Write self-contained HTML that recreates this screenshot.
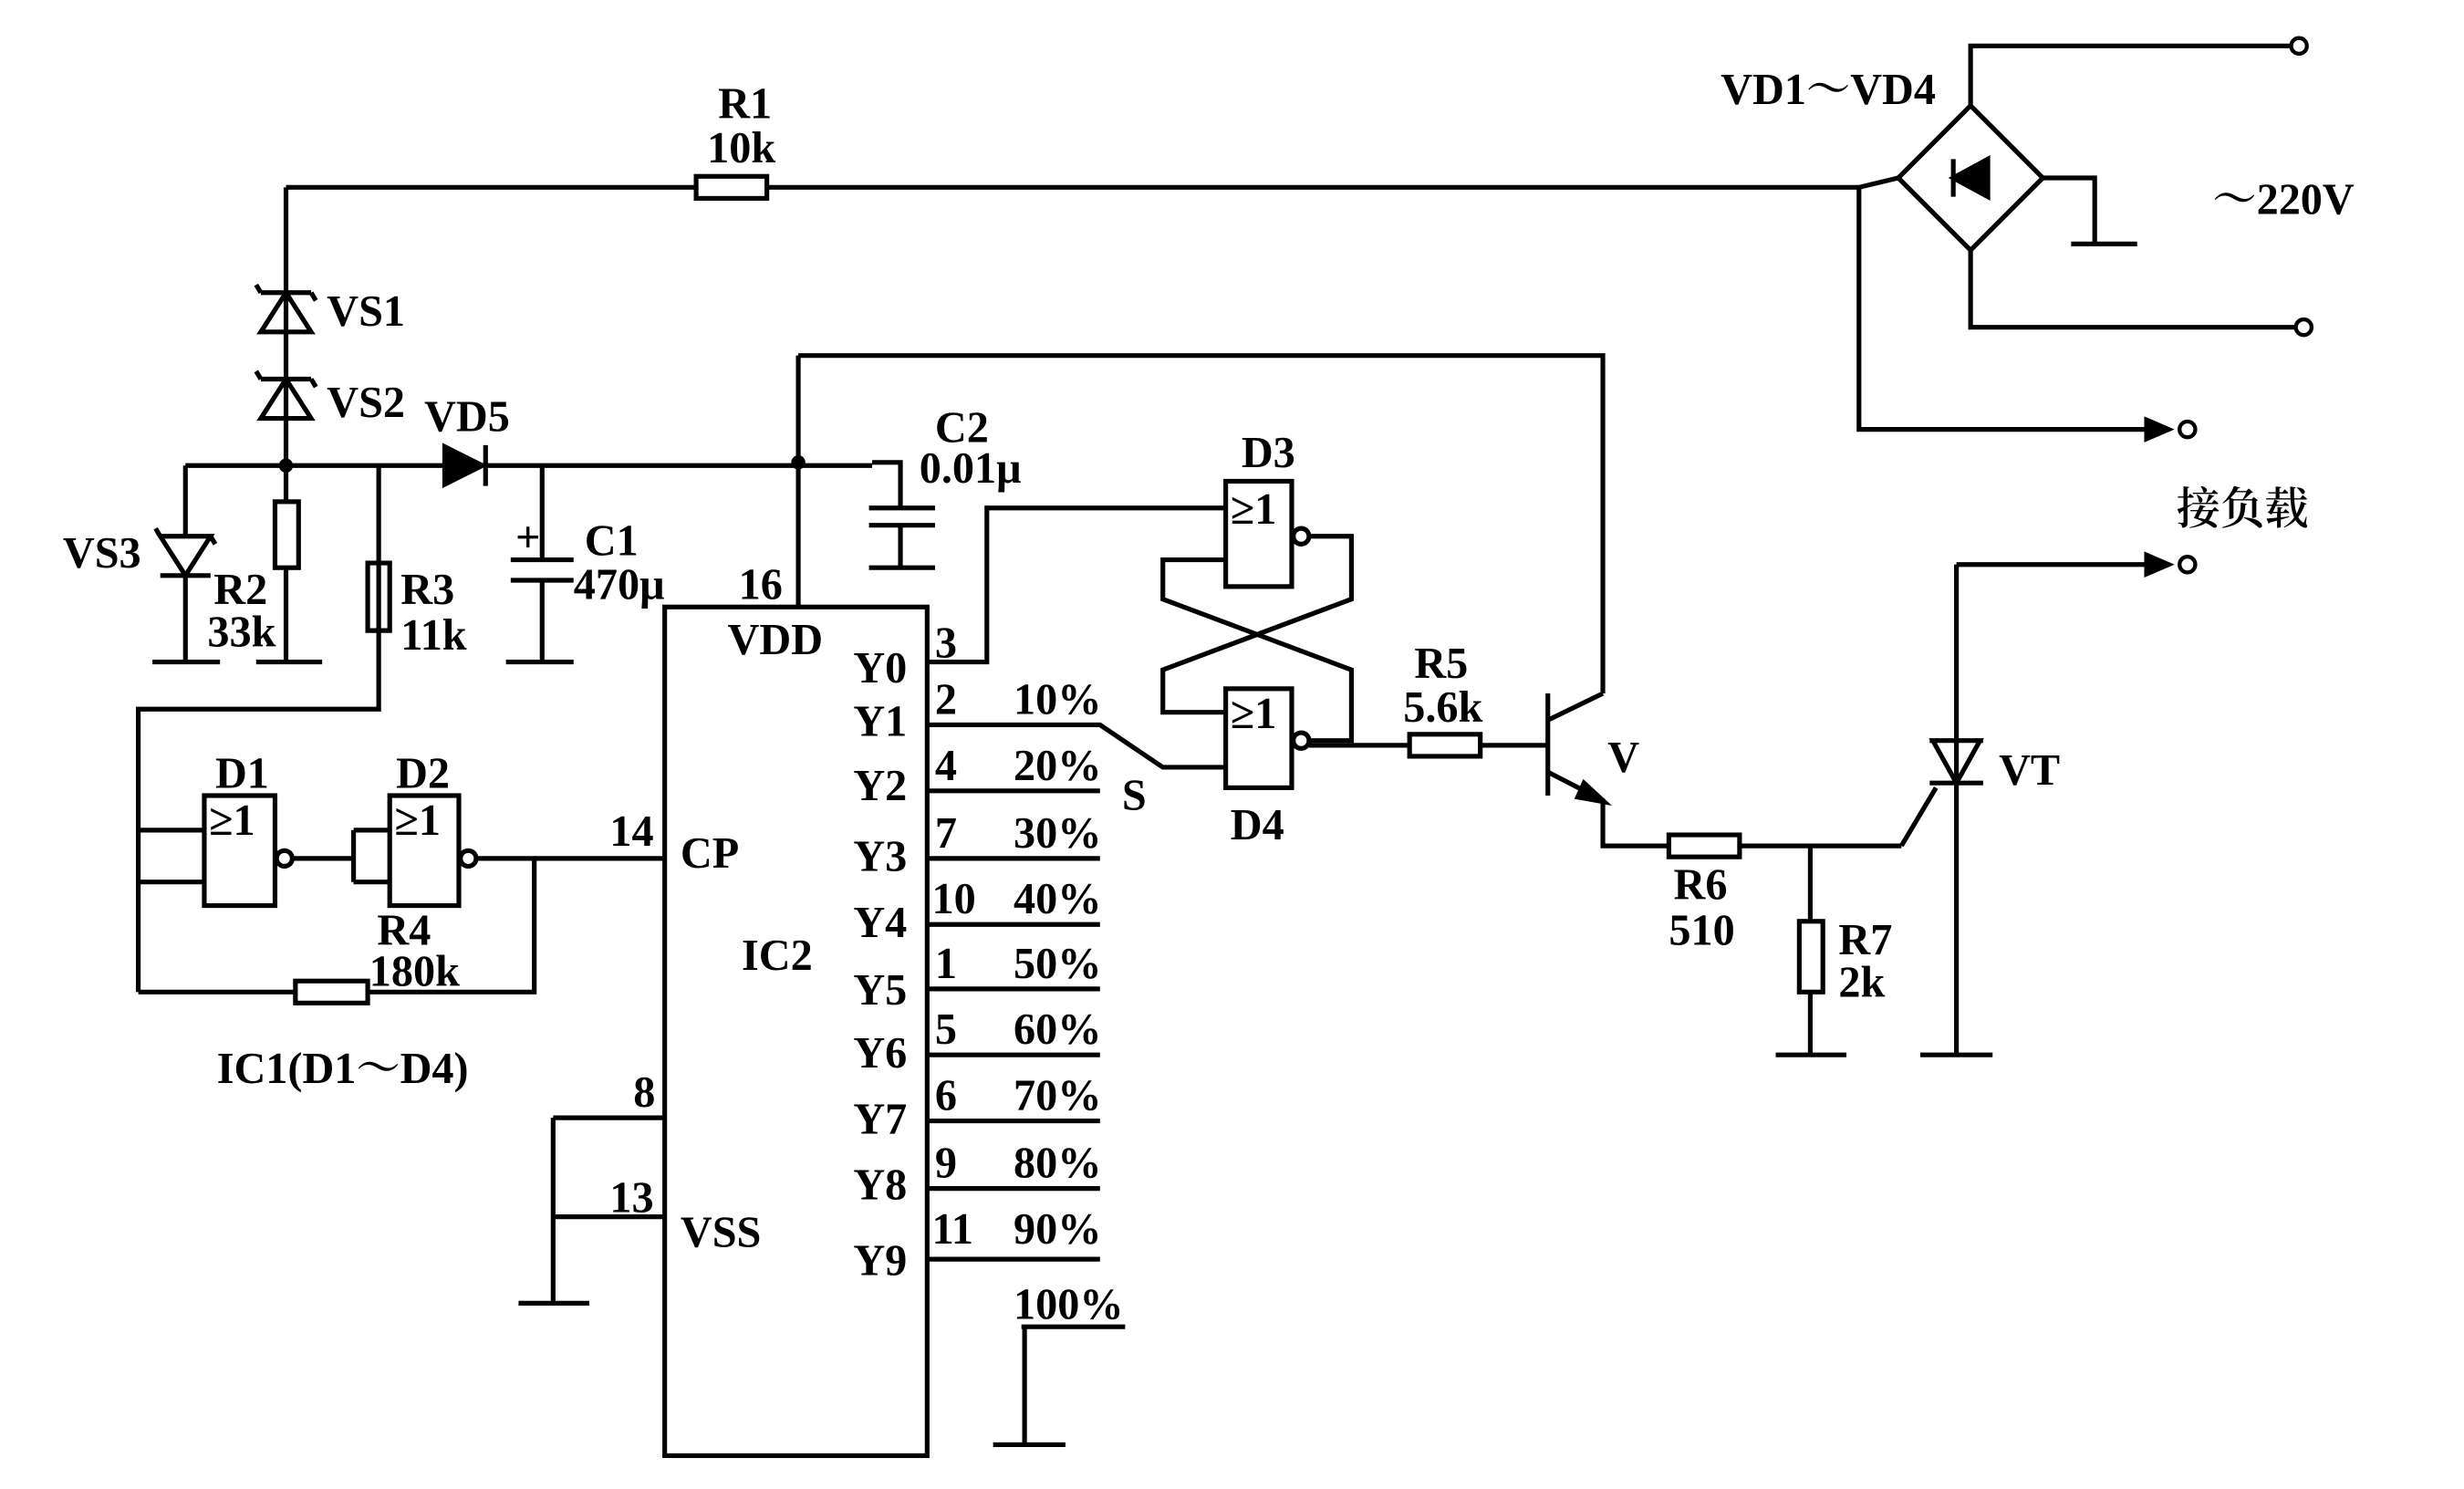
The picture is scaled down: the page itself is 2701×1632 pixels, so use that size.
<!DOCTYPE html>
<html><head><meta charset="utf-8"><style>
html,body{margin:0;padding:0;background:#fff}
svg{display:block}
text{font-family:"Liberation Serif","Noto Serif CJK SC",serif;font-size:28px;fill:#000;font-weight:600}
</style></head><body>
<svg width="2701" height="1632" viewBox="0 0 1568 945" xmlns="http://www.w3.org/2000/svg">
<g stroke="#000" stroke-width="3" fill="none">
<path d="M182 118H443M488 118H1183L1208 112"/>
<rect x="443" y="111" width="45" height="14"/>
<path d="M1254 66L1300 112L1254 158L1208 112Z"/>
<path d="M1254 66V28H1457M1254 158V207H1460M1300 112H1333V153M1318 154H1360"/>
<path d="M1243 100V124M1265 100V124L1243 112Z" fill="#000"/>
<path d="M1183 118V272H1378"/>
<path d="M1366 266L1380 272L1366 278Z" fill="#000"/>
<path d="M182 118V420M163 420H205"/>
<path d="M166 185H198M166 210H198L182 185L166 210Z"/>
<path d="M166 240H198M166 265H198L182 240L166 265Z"/>
<path d="M163 180L166 185M198 185L201 190M163 235L166 240M198 240L201 245"/>
<rect x="175" y="318" width="15" height="42" fill="#fff"/>
<path d="M118 295H283M310 295H555"/>
<path d="M118 295V420M97 420H140"/>
<path d="M102 365H134M102 340H134L118 365L102 340Z" fill="#fff"/>
<path d="M99 335L102 340M134 340L137 345"/>
<path d="M283 283V307L307 295Z" fill="#000"/><path d="M309 282V308"/>
<path d="M241 295V450H88V630M234 357H248V400H234Z"/>
<path d="M345 295V355M325 355H365M325 368H365M345 368V420M322 420H365"/>
<path d="M508 225V385M508 225H1020V440"/>
<path d="M555 293H573V322M553 322H595M553 333H595M573 333V360M553 360H595"/>
<rect x="423" y="385" width="167" height="540"/>
<path d="M340 545H423M352 710H423M352 773H423M352 710V828M330 828H375"/>
<path d="M590 420H628V322H780"/>
<path d="M590 460H700L740 487H780M590 502H700M590 545H700M590 587H700M590 628H700M590 670H700M590 712H700M590 755H700M590 800H700"/>
<path d="M650 843H716M652 843V918M632 918H678"/>
<rect x="780" y="305" width="42" height="67"/>
<rect x="780" y="437" width="42" height="63"/>
<circle cx="828" cy="340" r="5"/><circle cx="828" cy="470" r="5"/>
<path d="M833 340H860V380L740 425V452H780M833 470H860V425L740 380V355H780"/>
<path d="M833 473H897M942 473H985"/>
<rect x="897" y="466" width="45" height="14"/>
<path d="M985 440V505M985 457L1020 440M985 490L1020 508V537H1062M1107 537H1210"/>
<path d="M1008 497L1021 509L1004 506Z" fill="#000"/>
<rect x="1062" y="530" width="45" height="14"/>
<path d="M1152 537V585M1152 630V670M1130 670H1175"/>
<rect x="1145" y="585" width="15" height="45"/>
<path d="M1245 358H1378M1245 358V670M1222 670H1268"/>
<path d="M1366 352L1380 358L1366 364Z" fill="#000"/>
<path d="M1228 470H1262M1228 497H1262M1230 470L1245 497L1260 470Z"/>
<path d="M1210 537L1232 500"/>
<rect x="130" y="505" width="45" height="70"/>
<rect x="248" y="505" width="44" height="70"/>
<circle cx="181" cy="545" r="5"/><circle cx="298" cy="545" r="5"/>
<path d="M88 527H130M88 560H130M186 545H225M225 527H248M225 560H248M225 527V560"/>
<path d="M303 545H340V630H234M188 630H88"/>
<rect x="188" y="623" width="46" height="14"/>
</g>
<g fill="#000">
<circle cx="182" cy="295" r="4.5"/><circle cx="508" cy="293" r="4.5"/>
</g>
<g fill="#fff" stroke="#000" stroke-width="2.5">
<circle cx="1463" cy="28" r="5"/><circle cx="1466" cy="207" r="5"/>
<circle cx="1392" cy="272" r="5"/><circle cx="1392" cy="358" r="5"/>
</g>
<g>
<text x="457" y="74">R1</text><text x="450" y="102">10k</text>
<text x="1095" y="65">VD1～VD4</text><text x="1408" y="135">～220V</text>
<text x="208" y="206">VS1</text><text x="208" y="264">VS2</text>
<text x="270" y="273">VD5</text><text x="40" y="360">VS3</text>
<text x="136" y="383">R2</text><text x="132" y="410">33k</text>
<text x="255" y="383">R3</text><text x="255" y="412">11k</text>
<text x="328" y="350" font-size="20">+</text>
<text x="372" y="352">C1</text><text x="365" y="380">470μ</text>
<text x="595" y="280">C2</text><text x="585" y="306">0.01μ</text>
<text x="470" y="380">16</text>
<text x="463" y="415">VDD</text><text x="433" y="551">CP</text>
<text x="472" y="616">IC2</text><text x="433" y="792">VSS</text>
<text x="388" y="537">14</text><text x="403" y="703">8</text><text x="388" y="770">13</text>
<text x="543" y="433">Y0</text><text x="543" y="467">Y1</text><text x="543" y="508">Y2</text>
<text x="543" y="553">Y3</text><text x="543" y="595">Y4</text><text x="543" y="638">Y5</text>
<text x="543" y="678">Y6</text><text x="543" y="720">Y7</text><text x="543" y="762">Y8</text>
<text x="543" y="810">Y9</text>
<text x="595" y="417">3</text><text x="595" y="453">2</text><text x="595" y="495">4</text>
<text x="595" y="538">7</text><text x="593" y="580">10</text><text x="595" y="621">1</text>
<text x="595" y="663">5</text><text x="595" y="705">6</text><text x="595" y="748">9</text>
<text x="593" y="790">11</text>
<text x="645" y="453">10%</text><text x="645" y="495">20%</text><text x="645" y="538">30%</text>
<text x="645" y="580">40%</text><text x="645" y="621">50%</text><text x="645" y="663">60%</text>
<text x="645" y="705">70%</text><text x="645" y="748">80%</text><text x="645" y="790">90%</text>
<text x="645" y="838">100%</text>
<text x="714" y="514">S</text>
<text x="790" y="296">D3</text><text x="783" y="533">D4</text>
<text x="783" y="332" font-size="25">≥1</text><text x="783" y="462" font-size="25">≥1</text>
<text x="900" y="430">R5</text><text x="893" y="458">5.6k</text>
<text x="1023" y="490">V</text>
<text x="1065" y="571">R6</text><text x="1062" y="600">510</text>
<text x="1170" y="606">R7</text><text x="1170" y="633">2k</text>
<text x="1272" y="498">VT</text>
<text x="1385" y="332" font-family="'Noto Sans CJK SC',sans-serif">接负载</text>
<text x="137" y="500">D1</text><text x="252" y="500">D2</text>
<text x="133" y="530" font-size="25">≥1</text><text x="251" y="530" font-size="25">≥1</text>
<text x="240" y="600">R4</text><text x="235" y="626">180k</text>
<text x="138" y="688">IC1(D1～D4)</text>
</g>
</svg>
</body></html>
